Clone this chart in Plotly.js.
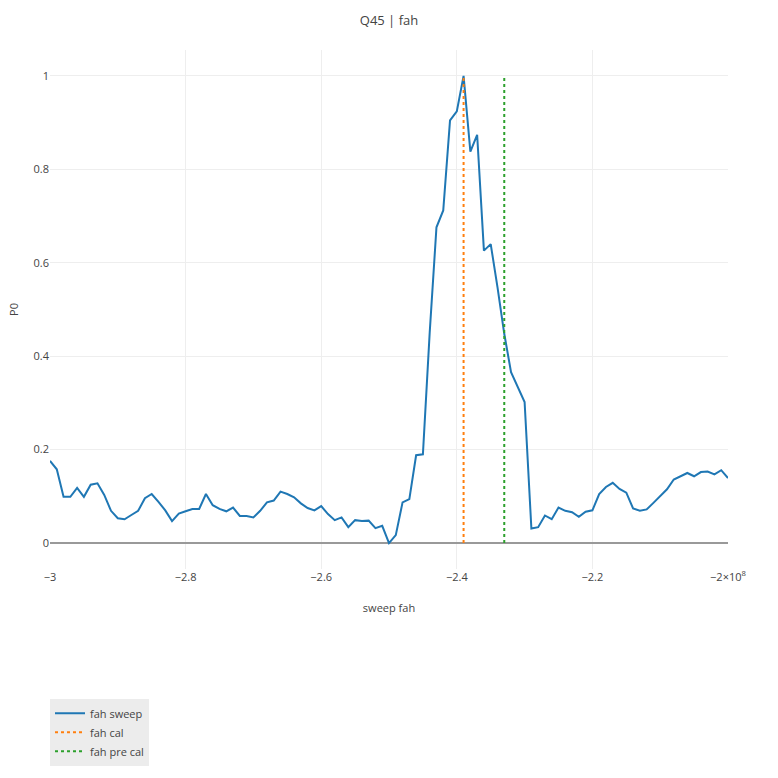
<!DOCTYPE html>
<html>
<head>
<meta charset="utf-8">
<script src="https://cdn.plot.ly/plotly-3.0.1.min.js"></script>
<style>html,body{margin:0;padding:0;background:#fff;}#chart{width:778px;height:778px;}</style>
</head>
<body>
<div id="chart"></div>
<script>
// sweep frequencies (Hz)
const sweepFreq = [
  -3.00e8,-2.99e8,-2.98e8,-2.97e8,-2.96e8,-2.95e8,-2.94e8,-2.93e8,-2.92e8,-2.91e8,
  -2.90e8,-2.89e8,-2.88e8,-2.87e8,-2.86e8,-2.85e8,-2.84e8,-2.83e8,-2.82e8,-2.81e8,
  -2.80e8,-2.79e8,-2.78e8,-2.77e8,-2.76e8,-2.75e8,-2.74e8,-2.73e8,-2.72e8,-2.71e8,
  -2.70e8,-2.69e8,-2.68e8,-2.67e8,-2.66e8,-2.65e8,-2.64e8,-2.63e8,-2.62e8,-2.61e8,
  -2.60e8,-2.59e8,-2.58e8,-2.57e8,-2.56e8,-2.55e8,-2.54e8,-2.53e8,-2.52e8,-2.51e8,
  -2.50e8,-2.49e8,-2.48e8,-2.47e8,-2.46e8,-2.45e8,-2.44e8,-2.43e8,-2.42e8,-2.41e8,
  -2.40e8,-2.39e8,-2.38e8,-2.37e8,-2.36e8,-2.35e8,-2.34e8,-2.33e8,-2.32e8,-2.31e8,
  -2.30e8,-2.29e8,-2.28e8,-2.27e8,-2.26e8,-2.25e8,-2.24e8,-2.23e8,-2.22e8,-2.21e8,
  -2.20e8,-2.19e8,-2.18e8,-2.17e8,-2.16e8,-2.15e8,-2.14e8,-2.13e8,-2.12e8,-2.11e8,
  -2.10e8,-2.09e8,-2.08e8,-2.07e8,-2.06e8,-2.05e8,-2.04e8,-2.03e8,-2.02e8,-2.01e8,
  -2.00e8
];
// P0 values
const sweepP0 = [
  0.176,0.158,0.099,0.099,0.118,0.099,0.125,0.128,0.103,0.069,
  0.053,0.051,0.060,0.069,0.096,0.105,0.088,0.070,0.047,0.063,
  0.068,0.073,0.073,0.105,0.081,0.073,0.068,0.076,0.058,0.058,
  0.055,0.069,0.087,0.091,0.110,0.105,0.098,0.085,0.075,0.070,
  0.079,0.062,0.049,0.055,0.034,0.049,0.047,0.048,0.032,0.037,
  0.000,0.017,0.087,0.094,0.188,0.190,0.450,0.676,0.712,0.905,
  0.924,1.000,0.838,0.874,0.626,0.640,0.548,0.448,0.366,0.334,
  0.302,0.031,0.034,0.059,0.051,0.076,0.069,0.066,0.056,0.067,
  0.070,0.105,0.120,0.129,0.116,0.108,0.074,0.069,0.072,0.086,
  0.100,0.115,0.136,0.143,0.150,0.143,0.152,0.153,0.147,0.156,
  0.139
];
const calFreq = [-2.39e8, -2.39e8];
const preCalFreq = [-2.33e8, -2.33e8];
const markerY = [0, 1];

const traces = [
  {x: sweepFreq, y: sweepP0, type: 'scatter', mode: 'lines', name: 'fah sweep',
   line: {color: '#1f77b4', width: 2}},
  {x: calFreq, y: markerY, type: 'scatter', mode: 'lines', name: 'fah cal',
   line: {color: '#ff7f0e', width: 2, dash: 'dot'}},
  {x: preCalFreq, y: markerY, type: 'scatter', mode: 'lines', name: 'fah pre cal',
   line: {color: '#2ca02c', width: 2, dash: 'dot'}}
];

const layout = {
  width: 778, height: 778,
  title: {text: 'Q45 | fah', font: {size: 13}},
  margin: {l: 50, r: 50, t: 50, b: 209},
  xaxis: {title: {text: 'sweep fah', font: {size: 11}}, exponentformat: 'power', showexponent: 'last',
          zeroline: false, tickfont: {size: 11}},
  yaxis: {title: {text: 'P0', font: {size: 11}}, tickfont: {size: 11},
          zeroline: true, zerolinecolor: '#999999', zerolinewidth: 2},
  legend: {x: 0, y: -0.25, xanchor: 'left', yanchor: 'top', bgcolor: '#ececec',
           font: {size: 11}},
  showlegend: true
};

Plotly.newPlot('chart', traces, layout, {displayModeBar: false});
</script>
</body>
</html>
